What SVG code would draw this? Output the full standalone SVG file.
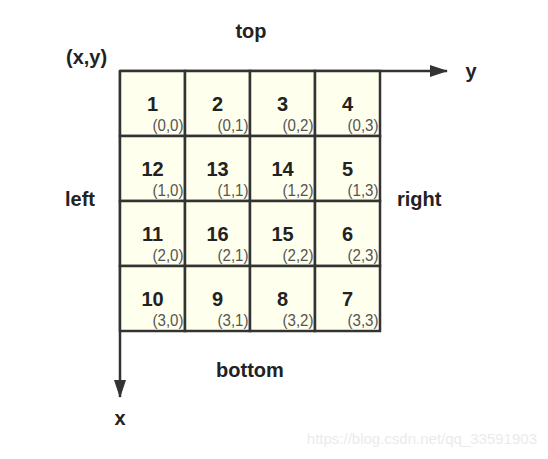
<svg xmlns="http://www.w3.org/2000/svg" width="548" height="459" viewBox="0 0 548 459">
<defs>
<style>
.cell{fill:#ffffee;stroke:#333;stroke-width:2.5}
.n{font-family:"Liberation Sans",Arial,sans-serif;font-weight:bold;font-size:20px;fill:#222;text-anchor:middle}
.c{font-family:"Liberation Sans",Arial,sans-serif;font-size:17px;fill:#555;text-anchor:end}
.lbl{font-family:"Liberation Sans",Arial,sans-serif;font-weight:bold;font-size:20px;fill:#222}
.ax{stroke:#333;stroke-width:2.5;fill:none}
</style>
<marker id="ah" markerWidth="18" markerHeight="12" refX="17" refY="6" orient="auto" markerUnits="userSpaceOnUse">
<path d="M0,0 L18,6 L0,12 Z" fill="#333"/>
</marker>
</defs>
<rect width="548" height="459" fill="#fff"/>
<g id="connectors">
<line class="ax" x1="120" y1="71" x2="447" y2="71" marker-end="url(#ah)"/>
<line class="ax" x1="120" y1="71" x2="120" y2="397" marker-end="url(#ah)"/>
</g>
<g id="c00"><rect class="cell" x="120" y="71" width="65" height="65"/><text class="n" x="152.5" y="110.5">1</text><text class="c" x="183.5" y="131" textLength="31" lengthAdjust="spacingAndGlyphs">(0,0)</text></g>
<g id="c01"><rect class="cell" x="185" y="71" width="65" height="65"/><text class="n" x="217.5" y="110.5">2</text><text class="c" x="248.5" y="131" textLength="31" lengthAdjust="spacingAndGlyphs">(0,1)</text></g>
<g id="c02"><rect class="cell" x="250" y="71" width="65" height="65"/><text class="n" x="282.5" y="110.5">3</text><text class="c" x="313.5" y="131" textLength="31" lengthAdjust="spacingAndGlyphs">(0,2)</text></g>
<g id="c03"><rect class="cell" x="315" y="71" width="65" height="65"/><text class="n" x="347.5" y="110.5">4</text><text class="c" x="378.5" y="131" textLength="31" lengthAdjust="spacingAndGlyphs">(0,3)</text></g>
<g id="c10"><rect class="cell" x="120" y="136" width="65" height="65"/><text class="n" x="152.5" y="175.5">12</text><text class="c" x="183.5" y="196" textLength="31" lengthAdjust="spacingAndGlyphs">(1,0)</text></g>
<g id="c11"><rect class="cell" x="185" y="136" width="65" height="65"/><text class="n" x="217.5" y="175.5">13</text><text class="c" x="248.5" y="196" textLength="31" lengthAdjust="spacingAndGlyphs">(1,1)</text></g>
<g id="c12"><rect class="cell" x="250" y="136" width="65" height="65"/><text class="n" x="282.5" y="175.5">14</text><text class="c" x="313.5" y="196" textLength="31" lengthAdjust="spacingAndGlyphs">(1,2)</text></g>
<g id="c13"><rect class="cell" x="315" y="136" width="65" height="65"/><text class="n" x="347.5" y="175.5">5</text><text class="c" x="378.5" y="196" textLength="31" lengthAdjust="spacingAndGlyphs">(1,3)</text></g>
<g id="c20"><rect class="cell" x="120" y="201" width="65" height="65"/><text class="n" x="152.5" y="240.5">11</text><text class="c" x="183.5" y="261" textLength="31" lengthAdjust="spacingAndGlyphs">(2,0)</text></g>
<g id="c21"><rect class="cell" x="185" y="201" width="65" height="65"/><text class="n" x="217.5" y="240.5">16</text><text class="c" x="248.5" y="261" textLength="31" lengthAdjust="spacingAndGlyphs">(2,1)</text></g>
<g id="c22"><rect class="cell" x="250" y="201" width="65" height="65"/><text class="n" x="282.5" y="240.5">15</text><text class="c" x="313.5" y="261" textLength="31" lengthAdjust="spacingAndGlyphs">(2,2)</text></g>
<g id="c23"><rect class="cell" x="315" y="201" width="65" height="65"/><text class="n" x="347.5" y="240.5">6</text><text class="c" x="378.5" y="261" textLength="31" lengthAdjust="spacingAndGlyphs">(2,3)</text></g>
<g id="c30"><rect class="cell" x="120" y="266" width="65" height="65"/><text class="n" x="152.5" y="305.5">10</text><text class="c" x="183.5" y="326" textLength="31" lengthAdjust="spacingAndGlyphs">(3,0)</text></g>
<g id="c31"><rect class="cell" x="185" y="266" width="65" height="65"/><text class="n" x="217.5" y="305.5">9</text><text class="c" x="248.5" y="326" textLength="31" lengthAdjust="spacingAndGlyphs">(3,1)</text></g>
<g id="c32"><rect class="cell" x="250" y="266" width="65" height="65"/><text class="n" x="282.5" y="305.5">8</text><text class="c" x="313.5" y="326" textLength="31" lengthAdjust="spacingAndGlyphs">(3,2)</text></g>
<g id="c33"><rect class="cell" x="315" y="266" width="65" height="65"/><text class="n" x="347.5" y="305.5">7</text><text class="c" x="378.5" y="326" textLength="31" lengthAdjust="spacingAndGlyphs">(3,3)</text></g>
<g id="labels">
<text class="lbl" x="66" y="64">(x,y)</text>
<text class="lbl" x="251" y="38" text-anchor="middle">top</text>
<text class="lbl" x="471" y="78" text-anchor="middle">y</text>
<text class="lbl" x="65" y="206">left</text>
<text class="lbl" x="397" y="206">right</text>
<text class="lbl" x="250" y="377" text-anchor="middle">bottom</text>
<text class="lbl" x="120" y="425" text-anchor="middle">x</text>
<text x="537" y="444" text-anchor="end" font-family="'Liberation Sans',Arial,sans-serif" font-size="15" fill="#ebebeb">https://blog.csdn.net/qq_33591903</text>
</g>
</svg>
